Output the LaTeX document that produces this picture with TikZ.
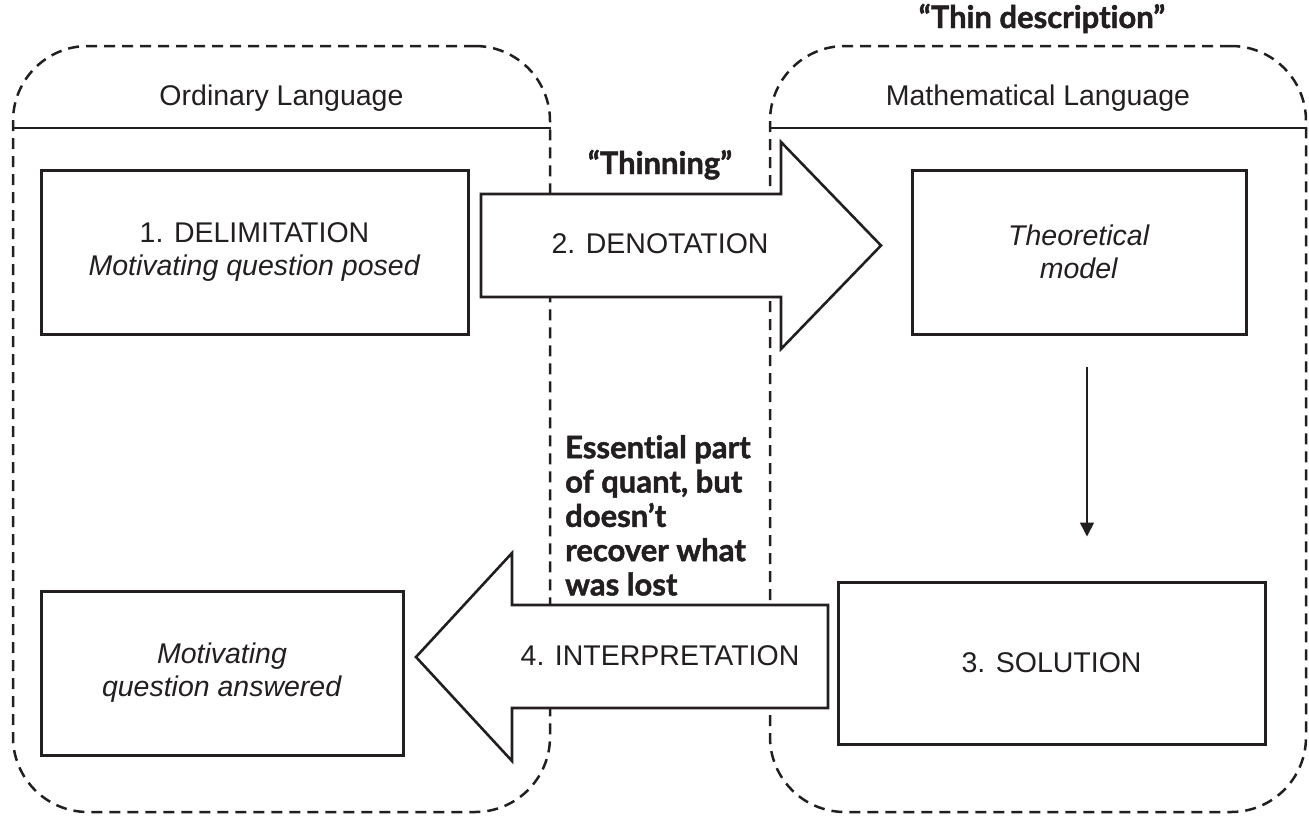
\documentclass[tikz,border=0pt]{standalone}
\usepackage{fontspec}
\setmainfont{Liberation Sans}
\newfontfamily\remarkfont{Lato}[Ligatures=NoCommon, BoldFeatures={FakeBold=1.5}]
\usetikzlibrary{arrows.meta}
\definecolor{ink}{RGB}{35,31,32}
\begin{document}
\begin{tikzpicture}[x=1pt,y=-1pt,
  every node/.style={text=ink, inner sep=0pt},
  container/.style={draw=ink, line width=2.5pt, dash pattern=on 11pt off 7pt, rounded corners=75pt},
  header/.style={draw=ink, line width=2.5pt},
  stepbox/.style={draw=ink, fill=white, line width=3pt, align=center, font=\fontsize{28.5}{33}\selectfont},
  blockarrow/.style={draw=ink, fill=white, line width=2.6pt, line join=miter},
  arrowlabel/.style={font=\fontsize{28.5}{33}\selectfont},
  langlabel/.style={font=\fontsize{28.5}{33}\selectfont},
  remark/.style={font=\remarkfont\bfseries\fontsize{31}{34.3}\selectfont},
  bigremark/.style={font=\remarkfont\bfseries\fontsize{31}{36}\selectfont},
  flow/.style={draw=ink, line width=1.6pt, -{Triangle[width=14pt,length=14pt]}}
]
\useasboundingbox (0,0) rectangle (1309,815);

% language containers
\node[container, minimum width=537pt, minimum height=766pt] (ordc) at (281.5,429) {};
\node[container, minimum width=536pt, minimum height=766pt] (mathc) at (1038,429) {};
\coordinate (hy) at (0,128);
\draw[header] (ordc.west |- hy) -- (ordc.east |- hy);
\draw[header] (mathc.west |- hy) -- (mathc.east |- hy);
\node[langlabel, anchor=base] (ol) at (281.5,105) {Ordinary Language};
\node[langlabel, anchor=base] (ml) at (1038,105) {Mathematical Language};

% block arrows
\draw[blockarrow] (481,194) -- (781,194) -- (781,142) -- (881,245.5) -- (781,349) -- (781,297) -- (481,297) -- cycle;
\node[arrowlabel, anchor=base] (den) at (660,253) {2. DENOTATION};
\draw[blockarrow] (828,605) -- (512,605) -- (512,553) -- (416,657) -- (512,761) -- (512,708) -- (828,708) -- cycle;
\node[arrowlabel, anchor=base] (int) at (660,665) {4. INTERPRETATION};

% step boxes
\node[stepbox, minimum width=427pt, minimum height=164pt] (delim) at (254.5,252) {1. DELIMITATION\\\textit{Motivating question posed}};
\node[stepbox, minimum width=334pt, minimum height=164pt] (theo) at (1079,252) {\textit{Theoretical}\\\textit{model}};
\node[stepbox, minimum width=427pt, minimum height=162pt] (sol) at (1051.5,663) {3. SOLUTION};
\node[stepbox, minimum width=362pt, minimum height=164pt] (ans) at (222,673) {\textit{Motivating}\\\textit{question answered}};

\draw[flow] ([xshift=8pt,yshift=-31pt]theo.south) -- ([xshift=35.5pt,yshift=44pt]sol.north);

% remarks
\node[bigremark, anchor=base] (thin) at (1042,28) {“Thin description”};
\node[bigremark, anchor=base] (thinning) at (660,174) {“Thinning”};
\node[remark, align=left, anchor=north west] (ess) at (565,435) {Essential part\\of quant, but\\doesn’t\\recover what\\was lost};
\end{tikzpicture}
\end{document}
